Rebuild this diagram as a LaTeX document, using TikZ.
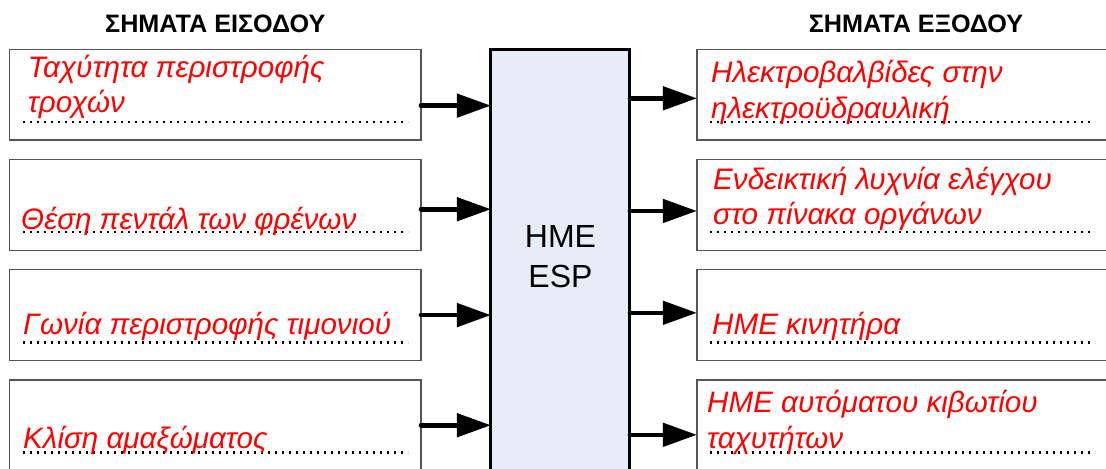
\documentclass[tikz,border=0pt]{standalone}
\usepackage{fontspec}
\setmainfont{Liberation Sans}
\usepackage{xcolor}
\definecolor{espblue}{RGB}{230, 237, 247}
\definecolor{boxgray}{RGB}{85, 85, 85}
\definecolor{sigred}{RGB}{255, 0, 0}
\usetikzlibrary{arrows.meta,positioning}

\begin{document}
\begin{tikzpicture}[x=0.75pt, y=0.75pt,
    sigbox/.style={rectangle, draw=boxgray, line width=1pt, outer sep=0pt, inner sep=0pt, minimum height=68pt},
    sigtext/.style={anchor=base west, inner sep=0pt, align=left, text=sigred, font=\itshape\fontsize{22.2}{26.6}\selectfont},
    title/.style={inner sep=0pt, text depth=0pt, font=\bfseries\fontsize{18.9}{22}\selectfont},
    dotline/.style={draw=black, line width=1.8pt, dash pattern=on 1.8pt off 3.45pt},
    sig/.style={-{Triangle[length=25.5pt, width=17.25pt]}, line width=3.5pt, line cap=round}]
    \clip (0,0) rectangle (1106,468);

    % Input signals
    \node[sigbox, minimum width=308.6pt, anchor=north west] (in1) at (9.5,418.5) {};
    \node[sigbox, minimum width=308.6pt, below=14.6pt of in1] (in2) {};
    \node[sigbox, minimum width=308.6pt, below=14.6pt of in2] (in3) {};
    \node[sigbox, minimum width=308.6pt, below=14.6pt of in3] (in4) {};
    \node[title, above=12.4pt of in1] (intitle) {ΣΗΜΑΤΑ ΕΙΣΟΔΟΥ};

    % Control unit
    \node[rectangle, draw=black, line width=2.25pt, fill=espblue, outer sep=0pt, minimum width=104.25pt, minimum height=345pt, right=52.5pt of in1.north east, anchor=north west] (esp) {};
    \node[align=center, inner sep=0pt, font=\fontsize{24}{30}\selectfont] (espname) at ([yshift=-155.25pt]esp.north) {HME\\ESP};

    % Output signals
    \node[sigbox, minimum width=328.5pt, right=50.25pt of esp.north east, anchor=north west] (out1) {};
    \node[sigbox, minimum width=328.5pt, below=14.6pt of out1] (out2) {};
    \node[sigbox, minimum width=328.5pt, below=14.6pt of out2] (out3) {};
    \node[sigbox, minimum width=328.5pt, below=14.6pt of out3] (out4) {};
    \node[title, above=12.4pt of out1] (outtitle) {ΣΗΜΑΤΑ ΕΞΟΔΟΥ};

    % Dotted lines
    \draw[dotline] ([xshift=10.1pt, yshift=13.5pt]in1.south west) -- ([xshift=-9.75pt, yshift=13.5pt]in1.south east);
    \draw[dotline] ([xshift=10.1pt, yshift=13.5pt]in2.south west) -- ([xshift=-9.75pt, yshift=13.5pt]in2.south east);
    \draw[dotline] ([xshift=10.1pt, yshift=13.5pt]in3.south west) -- ([xshift=-9.75pt, yshift=13.5pt]in3.south east);
    \draw[dotline] ([xshift=10.1pt, yshift=13.5pt]in4.south west) -- ([xshift=-9.75pt, yshift=13.5pt]in4.south east);
    \draw[dotline] ([xshift=9.75pt, yshift=13.5pt]out1.south west) -- ([xshift=-30pt, yshift=13.5pt]out1.south east);
    \draw[dotline] ([xshift=9.75pt, yshift=13.5pt]out2.south west) -- ([xshift=-30pt, yshift=13.5pt]out2.south east);
    \draw[dotline] ([xshift=9.75pt, yshift=13.5pt]out3.south west) -- ([xshift=-30pt, yshift=13.5pt]out3.south east);
    \draw[dotline] ([xshift=9.75pt, yshift=13.5pt]out4.south west) -- ([xshift=-30pt, yshift=13.5pt]out4.south east);

    % Signal names
    \node[sigtext] (in1txt) at ([xshift=13.5pt, yshift=-47.6pt]in1.north west) {Ταχύτητα περιστροφής\\τροχών};
    \node[sigtext] (in2txt) at ([xshift=8.6pt, yshift=-52.35pt]in2.north west) {Θέση πεντάλ των φρένων};
    \node[sigtext] (in3txt) at ([xshift=10.1pt, yshift=-48.8pt]in3.north west) {Γωνία περιστροφής τιμονιού};
    \node[sigtext] (in4txt) at ([xshift=10.1pt, yshift=-51.15pt]in4.north west) {Κλίση αμαξώματος};
    \node[sigtext] (out1txt) at ([xshift=10.5pt, yshift=-51.4pt]out1.north west) {Ηλεκτροβαλβίδες στην\\ηλεκτροϋδραυλική};
    \node[sigtext] (out2txt) at ([xshift=12pt, yshift=-49pt]out2.north west) {Ενδεικτική λυχνία ελέγχου\\στο πίνακα οργάνων};
    \node[sigtext] (out3txt) at ([xshift=11.25pt, yshift=-48.8pt]out3.north west) {ΗΜΕ κινητήρα};
    \node[sigtext] (out4txt) at ([xshift=7.5pt, yshift=-51.15pt]out4.north west) {ΗΜΕ αυτόματου κιβωτίου\\ταχυτήτων};

    % Signal flow
    \draw[sig] ([yshift=-8.1pt]in1.east) -- ([yshift=-8.1pt]in1.east -| esp.west);
    \draw[sig] ([yshift=-3.2pt]in2.east) -- ([yshift=-3.2pt]in2.east -| esp.west);
    \draw[sig] (in3.east) -- (in3.east -| esp.west);
    \draw[sig] (in4.east) -- (in4.east -| esp.west);
    \draw[sig] ([yshift=-2.6pt]out1.west -| esp.east) -- ([yshift=-2.6pt]out1.west);
    \draw[sig] ([yshift=-4.5pt]out2.west -| esp.east) -- ([yshift=-4.5pt]out2.west);
    \draw[sig] ([yshift=1.7pt]out3.west -| esp.east) -- ([yshift=1.7pt]out3.west);
    \draw[sig] ([yshift=-7.2pt]out4.west -| esp.east) -- ([yshift=-7.2pt]out4.west);
\end{tikzpicture}
\end{document}
